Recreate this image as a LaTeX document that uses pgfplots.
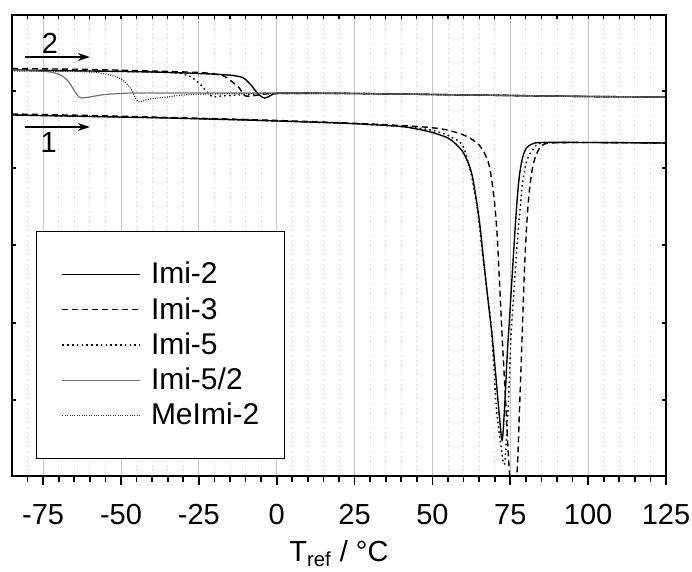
\documentclass[border=0pt]{standalone}
\usepackage{fontspec}
\setmainfont{Liberation Sans}
\usepackage{pgfplots}
\pgfplotsset{compat=1.18}
\usetikzlibrary{arrows.meta}
\begin{document}
\begin{tikzpicture}
\path[use as bounding box] (-6pt,-48pt) rectangle (340pt,238pt);
\begin{axis}[
  at={(0,0)}, anchor=south west,
  scale only axis, width=327pt, height=230.5pt,
  xmin=-85, xmax=125, ymin=0, ymax=461,
  xtick={-75,-50,...,125},
  minor xtick={-80,-75,...,125},
  xtick pos=bottom,
  ytick=\empty,
  tick align=outside,
  major tick length=4.5pt, minor tick length=3pt,
  xmajorgrids, xminorgrids,
  major grid style={gray!45, line width=0.5pt},
  minor grid style={gray!45, dotted, line width=0.4pt},
  axis line style={line width=0.9pt},
  every tick/.style={black, line width=0.8pt},
  /pgf/number format/assume math mode=true,
  xticklabel style={font=\fontsize{14.5}{16}\selectfont, anchor=north, yshift=-6pt},
  xlabel={T\textsubscript{ref} / °C},
  xlabel style={font=\fontsize{14.5}{16}\selectfont, at={(axis description cs:0.5,0)}, anchor=base, yshift=-43pt},
  legend cell align=left,
  legend style={at={(rel axis cs:0.0367,0.0369)}, anchor=south west,
    draw=black, line width=0.6pt, inner xsep=12.5pt, inner ysep=12.7pt,
    font=\fontsize{15}{17}\selectfont, row sep=0pt, column sep=5pt,
    nodes={inner xsep=0pt, inner ysep=0pt, minimum height=17.6pt}},
  legend image code/.code={\draw[#1] (0pt,0pt) -- (39pt,0pt);},
]
% ---- upper group (2) ----
\addplot[black, line width=0.7pt, smooth] coordinates {
(-85,406) (-60,405) (-40,404) (-25,402.5) (-18,401.5) (-14,400.5) (-11,398.5) (-9.5,395) (-8,390) (-6.5,384) (-5,379.5) (-3.8,378) (-2.5,379.5) (-1,382) (1,383) (5,383) (25,382.5) (50,381.5) (75,380.5) (100,379.5) (125,379)};
\addlegendentry{Imi-2}
\addplot[black, line width=0.7pt, dash pattern=on 3pt off 2pt, smooth] coordinates {
(-85,407.5) (-60,406.5) (-40,405) (-25,403.5) (-20,402) (-17,400) (-15,396) (-13.5,392) (-12,388) (-11,383) (-10,380) (-8,380) (-5,381.5) (0,382.5) (25,382.5) (50,381.5) (75,380.5) (100,379.5) (125,379)};
\addlegendentry{Imi-3}
\addplot[black, line width=0.7pt, dash pattern=on 0.8pt off 1.6pt, smooth] coordinates {
(-85,406) (-60,405) (-40,404) (-32,403) (-29,401) (-27,398) (-25,393) (-23.5,388) (-22,383) (-20.5,379) (-18,380) (-12,381) (-5,382) (0,382.5) (25,382.5) (50,381.5) (75,380.5) (100,379.5) (125,379)};
\addlegendentry{Imi-5}
\addplot[black!55, line width=0.6pt, smooth] coordinates {
(-85,405.5) (-78,405) (-74,404.5) (-71.2,403) (-69.5,401) (-68,398) (-66.5,393) (-65.5,388) (-64.5,383) (-63.5,379) (-62.5,378) (-60,379) (-55,381.5) (-46,383) (-30,383) (0,383) (25,382.5) (50,381.5) (75,380.5) (100,379.5) (125,379)};
\addlegendentry{Imi-5/2}
\addplot[black!80, line width=0.6pt, dash pattern=on 0.5pt off 0.7pt, smooth] coordinates {
(-85,405) (-65,404.5) (-58,403.5) (-53.5,401) (-50,397) (-47.5,390) (-46.2,384) (-45.2,377) (-44.5,374.5) (-43.5,374.5) (-40.7,377) (-35,379) (-30,381) (-20,382) (0,382.5) (25,382.5) (50,381.5) (75,380.5) (100,379.5) (125,379)};
\addlegendentry{MeImi-2}
% ---- lower group (1) ----
\addplot[black, line width=0.7pt, smooth, forget plot] coordinates {
(-85,361) (-60,359.5) (-35,358) (-10,356) (10,354) (20,353) (30,351.5) (40,349.5) (45,347) (50,343.5) (55,338) (57.5,332) (59.6,325) (61.5,313) (62.8,300) (64.1,276) (65.2,252) (66.5,214) (68,172) (69.2,139) (70.5,95) (71.5,60) (72.4,36) (73.2,70) (74,120) (74.6,150) (75.5,195) (76.5,245) (77.3,280) (78,302) (79,319) (80.2,328) (82,332) (85,333.5) (100,333.5) (125,333)};
\addplot[black, line width=0.7pt, dash pattern=on 3pt off 2pt, smooth, forget plot] coordinates {
(-85,362) (-60,360.5) (-35,358.5) (-10,356.5) (10,354.5) (30,352) (45,349.5) (52,347.5) (56,345) (60,341) (63,336) (65,331) (66.5,324) (68,313) (69,297) (70,272) (70.8,240) (71.6,190) (72.4,139) (73.5,75) (74.7,5) (75.9,-25) (77.2,5) (78,70) (78.8,139) (79.6,210) (80.5,262) (81.3,290) (82.2,309) (83.3,321) (85,330) (88,333) (100,333.5) (125,333)};
\addplot[black, line width=0.7pt, dash pattern=on 0.8pt off 1.6pt, smooth, forget plot] coordinates {
(-85,361) (-35,358) (10,354) (30,351.5) (45,348) (52,344) (56,339) (59.6,331) (61.9,309) (63.5,285) (64.5,265) (66,225) (67.5,185) (68.9,149) (70.5,70) (71.8,35) (73.1,12) (74.2,60) (75.3,143) (76.5,200) (77.5,245) (78.2,268) (78.8,290) (80.1,313) (81.3,322) (82.7,328) (85.3,333) (100,333.5) (125,333)};
% arrows and labels
\draw[-{Stealth[length=6pt,width=4pt]}, line width=0.6pt] (axis cs:-80.8,419) -- (axis cs:-60,419);
\node[font=\fontsize{14.5}{16}\selectfont] at (axis cs:-72.8,433) {2};
\draw[-{Stealth[length=6pt,width=4pt]}, line width=0.6pt] (axis cs:-80.8,349) -- (axis cs:-60,349);
\node[font=\fontsize{14.5}{16}\selectfont] at (axis cs:-73.2,333) {1};
\end{axis}
\begin{axis}[
  at={(0,0)}, anchor=south west,
  scale only axis, width=327pt, height=230.5pt,
  xmin=-85, xmax=125, ymin=0, ymax=461,
  xtick pos=top, ytick pos=both,
  xtick={-75,-50,...,125}, minor xtick={-80,-75,...,125},
  ytick={76,153,231,308,385},
  xticklabels={}, yticklabels={}, tick align=inside,
  major tick length=2pt, minor tick length=2pt,
  every tick/.style={black, line width=0.6pt},
  axis line style={line width=0.9pt},
]
\end{axis}
\end{tikzpicture}
\end{document}
